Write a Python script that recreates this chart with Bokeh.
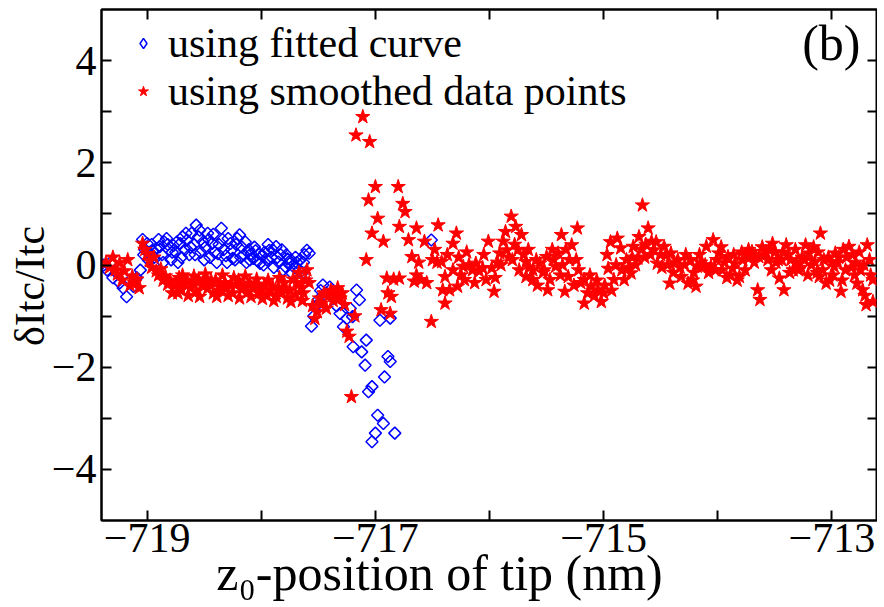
from bokeh.plotting import figure
from bokeh.models import FixedTicker, LinearAxis, Label, Legend, LegendItem, Range1d
from bokeh.embed import file_html
from bokeh.resources import INLINE

# ---------------- data ----------------
blue_x = [-719.38, -719.35, -719.32, -719.30, -719.27, -719.24, -719.21, -719.18, -719.15, -719.12, -719.09, -719.06,
          -719.04, -719.02, -719.00, -718.98, -718.96, -718.94, -718.92, -718.89, -718.87, -718.85, -718.83, -718.81,
          -718.79, -718.77, -718.75, -718.73, -718.71, -718.69, -718.67, -718.65, -718.63, -718.61, -718.59, -718.57,
          -718.55, -718.53, -718.51, -718.49, -718.47, -718.45, -718.43, -718.41, -718.39, -718.37, -718.35, -718.33,
          -718.31, -718.29, -718.27, -718.25, -718.23, -718.21, -718.19, -718.17, -718.15, -718.13, -718.11, -718.09,
          -718.07, -718.05, -718.03, -718.01, -717.99, -717.97, -717.95, -717.93, -717.91, -717.89, -717.87, -717.85,
          -717.83, -717.81, -717.79, -717.77, -717.75, -717.73, -717.71, -717.69, -717.66, -717.64, -717.62, -717.60,
          -717.58, -717.56, -717.54, -717.52, -717.50, -717.48, -717.46, -717.43, -717.40, -717.37, -717.34, -717.31,
          -717.28, -717.25, -717.22, -717.20, -717.195, -717.165, -717.14, -717.12, -717.09, -717.08, -717.06, -717.03,
          -717.03, -717.00, -716.98, -716.96, -716.93, -716.92, -716.89, -716.87, -716.87, -716.83, -716.51]
blue_y = [0.00, -0.10, 0.05, -0.25, -0.15, -0.35, -0.45, -0.62, -0.30, -0.42, -0.25, -0.10,
          0.50, 0.30, 0.42, 0.25, 0.40, 0.15, 0.32, 0.36, 0.20, 0.45, 0.52, 0.30,
          0.10, 0.38, 0.25, 0.05, 0.42, 0.55, 0.30, 0.49, 0.20, 0.62, 0.40, 0.78,
          0.55, 0.25, 0.45, 0.35, 0.62, 0.15, 0.42, 0.25, 0.05, 0.40, 0.72, 0.30,
          0.18, 0.52, 0.42, 0.13, 0.10, 0.52, 0.59, 0.35, 0.20, 0.05, 0.30, 0.22,
          0.13, 0.28, 0.08, 0.03, 0.18, 0.25, 0.10, 0.29, 0.15, -0.05, 0.36, 0.06,
          0.20, -0.10, -0.03, 0.12, 0.03, -0.16, -0.05, 0.05, 0.10, -0.15, 0.20, 0.29,
          0.23, -1.20, -1.00, -0.80, -0.68, -0.50, -0.39, -0.55, -0.43, -0.65, -0.80, -0.95,
          -1.21, -1.05, -0.85, -1.01, -1.60, -0.49, -0.68, -1.70, -1.96, -1.47, -2.48, -2.38,
          -3.46, -3.29, -2.94, -1.08, -3.10, -2.19, -1.79, -1.89, -1.04, -3.29, 0.49]
blue_x_extra = [-719.03, -718.99, -718.95, -718.90, -718.86, -718.82, -718.78, -718.74, -718.70, -718.66, -718.62,
                -718.58, -718.54, -718.50, -718.46, -718.42, -718.38, -718.34, -718.30, -718.26, -718.22, -718.18,
                -718.14, -718.10, -718.06, -718.02, -717.98, -717.94, -717.90, -717.86, -717.82, -717.78, -717.74,
                -717.70, -717.67, -717.63]
blue_y_extra = [0.20, 0.10, 0.28, 0.50, 0.05, 0.40, 0.25, 0.45, 0.15, 0.62, 0.35,
                0.20, 0.68, 0.10, 0.50, 0.60, 0.22, 0.50, 0.05, 0.30, 0.40, 0.15,
                0.45, 0.10, 0.35, 0.22, 0.00, 0.40, 0.30, 0.15, 0.30, 0.20, 0.10,
                0.15, -0.10, 0.05]

red_x = [-719.36, -719.33, -719.30, -719.28, -719.26, -719.24, -719.22, -719.20, -719.17, -719.15, -719.13, -719.11,
         -719.09, -719.07, -719.04, -719.02, -719.00, -718.98, -718.96, -718.94, -718.92, -718.90, -718.88, -718.86,
         -718.84, -718.82, -718.80, -718.78, -718.76, -718.74, -718.72, -718.70, -718.67, -718.65, -718.62, -718.60,
         -718.57, -718.55, -718.52, -718.50, -718.47, -718.45, -718.42, -718.40, -718.37, -718.35, -718.32, -718.30,
         -718.27, -718.25, -718.22, -718.20, -718.17, -718.15, -718.12, -718.10, -718.07, -718.05, -718.02, -718.00,
         -717.97, -717.95, -717.92, -717.90, -717.87, -717.85, -717.82, -717.80, -717.77, -717.75, -717.72, -717.70,
         -717.67, -717.65, -717.63, -717.60, -717.58, -717.55, -717.53, -717.51, -717.49, -717.47, -717.45, -717.43,
         -717.41, -717.39, -717.37, -717.35, -717.33, -717.31, -717.29, -717.27, -717.25, -717.23, -717.21, -717.18,
         -717.17, -717.11, -717.08, -717.06, -717.05, -717.03, -717.00, -716.98, -716.95, -716.93, -716.90, -716.89,
         -716.87, -716.86, -716.84, -716.80, -716.79, -716.79, -716.76, -716.74, -716.71, -716.68, -716.66, -716.64,
         -716.64, -716.60, -716.57, -716.51, -716.50, -716.46, -716.45, -716.42, -716.41, -716.39, -716.39, -716.35,
         -716.32, -716.32, -716.29, -716.28, -716.25, -716.23, -716.22, -716.18, -716.15, -716.12, -716.09, -716.06,
         -716.03, -716.01, -715.98, -715.96, -715.93, -715.91, -715.88, -715.85, -715.83, -715.81, -715.80, -715.77,
         -715.75, -715.72, -715.70, -715.68, -715.68, -715.65, -715.62, -715.62, -715.59, -715.56, -715.53, -715.50,
         -715.49, -715.47, -715.44, -715.42, -715.40, -715.38, -715.37, -715.34, -715.33, -715.31, -715.28, -715.26,
         -715.24, -715.23, -715.20, -715.17, -715.17, -715.14, -715.11, -715.08, -715.05, -715.02, -714.99, -714.96,
         -714.93, -714.91, -714.88, -714.85, -714.82, -714.80, -714.78, -714.76, -714.74, -714.72, -714.70, -714.69,
         -714.66, -714.63, -714.61, -714.58, -714.56, -714.53, -714.50, -714.47, -714.44, -714.42, -714.41, -714.38,
         -714.35, -714.32, -714.29, -714.26, -714.24, -714.21, -714.19, -714.18, -714.15, -714.13, -714.10, -714.08,
         -714.06, -714.04, -714.01, -713.99, -713.96, -713.94, -713.91, -713.89, -713.87, -713.85, -713.83, -713.81,
         -713.78, -713.75, -713.72, -713.70, -713.67, -713.65, -713.64, -713.63, -713.60, -713.58, -713.55, -713.53,
         -713.52, -713.49, -713.46, -713.44, -713.42, -713.40, -713.38, -713.36, -713.34, -713.31, -713.29, -713.26,
         -713.23, -713.20, -713.18, -713.15, -713.13, -713.11, -713.10, -713.07, -713.05, -713.02, -713.00, -712.98,
         -712.97, -712.94, -712.92, -712.90, -712.88, -712.85, -712.82, -712.80, -712.78, -712.75, -712.73, -712.72,
         -712.70, -712.69, -712.66, -712.64, -712.64]
red_y = [0.05, -0.05, 0.15, -0.10, -0.18, 0.04, -0.30, -0.12, 0.10, -0.40, -0.22, -0.35,
         -0.28, -0.45, 0.42, 0.30, 0.22, 0.08, -0.05, 0.15, -0.12, -0.20, -0.08, -0.30,
         -0.22, -0.38, -0.30, -0.55, -0.42, -0.35, -0.25, -0.48, -0.38, -0.30, -0.45, -0.35,
         -0.52, -0.28, -0.40, -0.32, -0.46, -0.38, -0.55, -0.30, -0.42, -0.50, -0.35, -0.45,
         -0.40, -0.55, -0.38, -0.30, -0.48, -0.42, -0.52, -0.36, -0.45, -0.40, -0.55, -0.48,
         -0.38, -0.60, -0.50, -0.42, -0.62, -0.45, -0.55, -0.35, -0.65, -0.50, -0.28, -0.58,
         -0.15, -0.45, -0.55, -0.10, -0.35, -0.80, -1.05, -0.92, -0.65, -0.75, -0.55, -0.85,
         -0.60, -0.50, -0.70, -0.58, -0.45, -0.65, -0.55, -0.78, -1.30, -1.40, -2.58, -1.00,
         2.54, 2.90, 0.10, 1.27, 2.41, 0.62, 1.53, 0.91, -0.88, 0.46, -0.26, -0.55,
         -0.95, -0.62, -0.28, 1.53, 0.75, -0.26, 1.20, 1.04, 0.49, 0.16, -0.32, 0.72,
         -0.20, -0.29, 0.46, -1.11, 0.10, 0.05, 0.78, 0.06, -0.49, -0.75, -0.23, -0.49,
         0.42, -0.10, 0.62, -0.42, -0.20, -0.03, -0.29, 0.00, -0.10, 0.03, -0.12, -0.06,
         -0.29, 0.46, -0.06, -0.52, 0.05, 0.23, 0.46, 0.29, 0.15, 0.95, 0.10, 0.75,
         0.30, 0.59, 0.20, 0.06, -0.23, -0.05, -0.10, -0.29, 0.10, 0.03, -0.15, 0.16,
         -0.49, -0.29, 0.10, -0.03, 0.23, -0.20, 0.59, -0.52, 0.30, -0.23, 0.39, -0.40,
         0.10, 0.72, -0.35, -0.29, -0.75, -0.55, -0.42, -0.60, -0.49, -0.72, -0.40, -0.07,
         -0.50, -0.29, 0.52, 0.33, -0.29, 0.10, -0.05, -0.16, 0.36, 0.00, 0.13, 0.55,
         1.17, 0.40, 0.72, 0.46, 0.29, 0.03, 0.20, 0.36, 0.00, -0.36, 0.23, 0.05,
         0.10, -0.23, 0.00, -0.36, 0.10, -0.15, -0.42, -0.03, 0.05, -0.03, 0.36, -0.15,
         -0.03, 0.49, 0.10, 0.23, -0.10, 0.05, 0.16, -0.20, -0.07, 0.03, -0.30, -0.23,
         0.10, 0.20, 0.15, 0.26, 0.18, -0.49, 0.16, -0.68, 0.20, 0.26, 0.30, -0.10,
         0.42, 0.05, -0.26, 0.10, -0.49, 0.39, 0.20, 0.10, -0.10, 0.05, -0.10, 0.15,
         0.39, 0.23, 0.00, 0.06, -0.15, -0.23, 0.62, 0.10, -0.36, -0.30, 0.05, -0.03,
         0.23, 0.15, -0.52, 0.30, -0.10, 0.36, 0.20, -0.20, -0.36, -0.10, -0.49, 0.00,
         -0.78, 0.39, -0.20, -0.29, -0.72]
red_x_extra = [-718.73, -718.69, -718.64, -718.59, -718.54, -718.49, -718.44, -718.39, -718.34, -718.29, -718.24,
               -718.19, -718.14, -718.09, -718.04, -717.99, -717.94, -717.89, -717.84, -717.79, -717.74, -717.69,
               -717.64, -717.61,
               -716.62, -716.55, -716.48, -716.37, -716.27, -716.20, -716.13, -716.05, -715.95, -715.90, -715.86,
               -715.78, -715.74, -715.66, -715.58, -715.52, -715.45, -715.36, -715.30, -715.22, -715.12, -715.06,
               -715.00, -714.97, -714.94, -714.89, -714.84, -714.75, -714.67, -714.64, -714.59, -714.54, -714.49,
               -714.45, -714.39, -714.33, -714.28, -714.22, -714.16, -714.11, -714.02, -713.97, -713.92, -713.86,
               -713.79, -713.76, -713.73, -713.68, -713.61, -713.56, -713.50, -713.47, -713.43, -713.37, -713.32,
               -713.27, -713.24, -713.21, -713.16, -713.12, -713.08, -713.03, -712.99, -712.95, -712.91, -712.87,
               -712.83, -712.79, -712.76, -712.71, -712.67]
red_y_extra = [-0.55, -0.20, -0.60, -0.22, -0.62, -0.18, -0.30, -0.62, -0.20, -0.60, -0.25,
               -0.65, -0.22, -0.62, -0.28, -0.66, -0.30, -0.70, -0.25, -0.48, -0.72, -0.35,
               -0.70, -0.30,
               0.05, -0.35, 0.30, 0.20, 0.15, 0.25, -0.35, 0.20, -0.25, 0.00, 0.65,
               0.40, -0.10, 0.30, -0.40, -0.10, 0.30, 0.00, 0.10, -0.10, -0.20, -0.30,
               -0.55, 0.20, 0.45, 0.00, -0.10, 0.15, 0.30, 0.15, 0.20, 0.45, -0.05,
               0.20, -0.15, -0.05, 0.20, -0.30, 0.20, 0.00, -0.10, 0.35, -0.25, 0.20,
               0.25, -0.10, 0.30, 0.05, 0.35, 0.10, 0.25, 0.10, 0.25, -0.15, 0.30,
               -0.05, 0.10, -0.20, 0.35, 0.25, -0.10, 0.15, -0.20, 0.05, -0.30, 0.15,
               -0.05, 0.05, 0.25, -0.60, 0.10]

x_major = [-719, -717, -715, -713]
x_minor = [-718, -716, -714]
x_all = [-719, -718, -717, -716, -715, -714, -713]
x_tick_labels = {-719: "\u2212719", -717: "\u2212717", -715: "\u2212715", -713: "\u2212713"}
y_major = [-4, -2, 0, 2, 4]
y_minor = [-3, -1, 1, 3]
y_all = [-4, -3, -2, -1, 0, 1, 2, 3, 4]
y_tick_labels = {-4: "\u22124", -2: "\u22122", 0: "0", 2: "2", 4: "4"}
legend_labels = ["using fitted curve", "using smoothed data points"]
panel_tag = "(b)"
x_title = "z\u2080-position of tip (nm)"
y_title = "\u03b4Itc/Itc"

SERIF = "Liberation Serif"
NBSP = "\u00a0"

p = figure(frame_width=776, frame_height=511,
           x_range=Range1d(-719.40, -712.60), y_range=Range1d(-5, 5),
           output_backend="svg", toolbar_location=None,
           min_border_left=101, min_border_right=0, min_border_top=9, min_border_bottom=86)
p.grid.visible = False
p.outline_line_color = "black"
p.outline_line_width = 2
p.background_fill_color = "white"
p.border_fill_color = "white"


def style_axis(ax, ticker):
    ax.ticker = ticker
    ax.axis_line_width = 2
    ax.axis_line_color = "black"
    ax.major_tick_line_width = 2
    ax.minor_tick_line_width = 2
    ax.major_tick_line_color = "black"
    ax.minor_tick_line_color = "black"
    ax.major_tick_in = 10
    ax.major_tick_out = 0
    ax.minor_tick_in = 10
    ax.minor_tick_out = 0


xa = p.xaxis[0]
style_axis(xa, FixedTicker(ticks=x_major, minor_ticks=x_minor))
xa.major_label_overrides = x_tick_labels
xa.major_label_text_font = SERIF
xa.major_label_text_font_size = "42px"
xa.major_label_text_color = "black"
xa.major_label_standoff = 3
xa.axis_label = x_title + NBSP * 8
xa.axis_label_text_font = SERIF
xa.axis_label_text_font_size = "50px"
xa.axis_label_text_font_style = "normal"
xa.axis_label_text_color = "black"
xa.axis_label_standoff = -10

ya = p.yaxis[0]
style_axis(ya, FixedTicker(ticks=y_major, minor_ticks=y_minor))
ya.major_label_overrides = y_tick_labels
ya.major_label_text_font = SERIF
ya.major_label_text_font_size = "42px"
ya.major_label_text_color = "black"
ya.major_label_standoff = 5
ya.axis_label = y_title + NBSP * 4
ya.axis_label_text_font = SERIF
ya.axis_label_text_font_size = "42px"
ya.axis_label_text_font_style = "normal"
ya.axis_label_text_color = "black"
ya.axis_label_standoff = -4

# mirror ticks on top and right (minor ticks only -> no labels)
top_ax = LinearAxis()
style_axis(top_ax, FixedTicker(ticks=[], minor_ticks=x_all))
p.add_layout(top_ax, "above")
right_ax = LinearAxis()
style_axis(right_ax, FixedTicker(ticks=[], minor_ticks=y_all))
p.add_layout(right_ax, "right")

r_blue = p.scatter(blue_x + blue_x_extra, blue_y + blue_y_extra, marker="square", angle=0.785, size=8.5,
                   fill_color=None, line_color="#0000ff", line_width=1.5)
r_red = p.scatter(red_x + red_x_extra, red_y + red_y_extra, marker="star", size=15,
                  fill_color="#ff0000", line_color="#ff0000", line_width=1)

# legend key for the diamonds (hidden renderer, only drawn in the legend)
r_blue_key = p.scatter(x=blue_x[:1], y=blue_y[:1], marker="diamond", size=12,
                       fill_color=None, line_color="#0000ff", line_width=1.5, visible=False)

legend_style = dict(label_text_font=SERIF, label_text_font_size="42px", label_text_color="black",
                    glyph_width=26, glyph_height=26, label_standoff=12, padding=0, spacing=0,
                    margin=0, border_line_color=None, background_fill_alpha=0)
legend_a = Legend(items=[LegendItem(label=legend_labels[0], renderers=[r_blue_key])],
                  location=(29, 453), **legend_style)
legend_b = Legend(items=[LegendItem(label=legend_labels[1], renderers=[r_red])],
                  location=(29, 405), **legend_style)
p.add_layout(legend_a)
p.add_layout(legend_b)

p.add_layout(Label(x=759, y=478, x_units="screen", y_units="screen", text=panel_tag,
                   text_align="right", text_baseline="alphabetic",
                   text_font=SERIF, text_font_size="50px", text_color="black"))

open("out.html", "w").write(file_html(p, INLINE))
